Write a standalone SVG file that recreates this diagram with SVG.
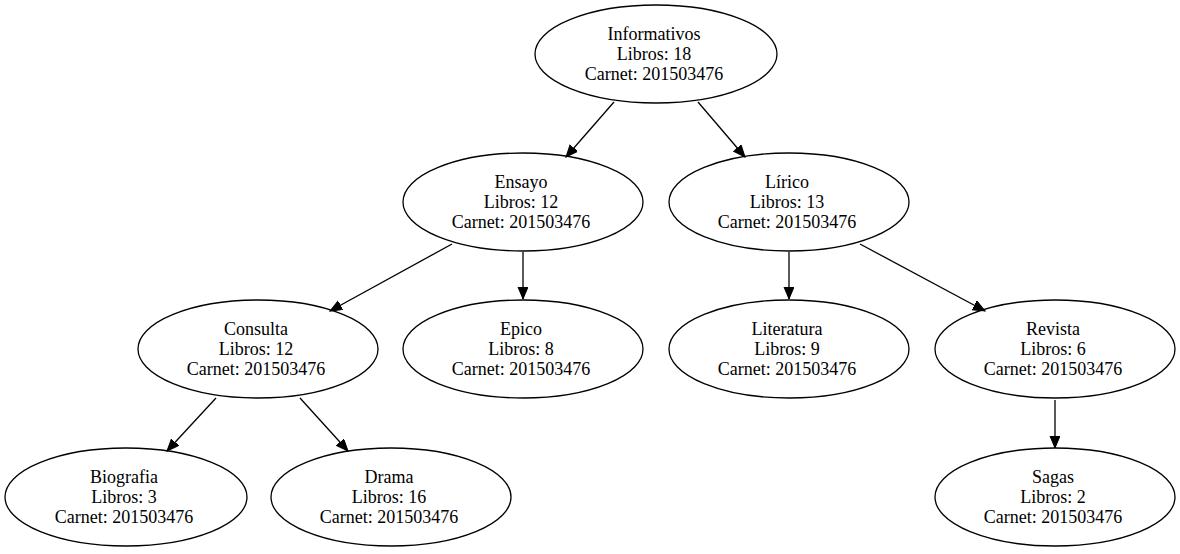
<svg xmlns="http://www.w3.org/2000/svg" width="1180" height="554" viewBox="0 0 1180 554">
<style>
.n ellipse{fill:none;stroke:#000;stroke-width:1.3}
.n text{font-family:"Liberation Serif","Times New Roman",serif;font-size:18px;text-anchor:middle;fill:#000}
.e line{stroke:#000;stroke-width:1.3;marker-end:url(#ah)}
</style>
<defs>
<marker id="ah" markerUnits="userSpaceOnUse" markerWidth="14" markerHeight="12" refX="12" refY="5" orient="auto">
<polygon points="0,0 12,5 0,10" fill="#000" stroke="#000" stroke-width="1"/>
</marker>
</defs>
<rect width="1180" height="554" fill="#fff"/>
<g id="edges" class="e">
<line x1="614" y1="102" x2="566" y2="157"/>
<line x1="698" y1="102" x2="745" y2="157"/>
<line x1="452" y1="244" x2="330" y2="311"/>
<line x1="523" y1="252" x2="523" y2="299"/>
<line x1="789" y1="252" x2="789" y2="299"/>
<line x1="860" y1="244" x2="985" y2="311"/>
<line x1="216" y1="398" x2="167" y2="451"/>
<line x1="300" y1="398" x2="348" y2="451"/>
<line x1="1055" y1="400" x2="1055" y2="448"/>
</g>
<g id="informativos" class="n"><ellipse cx="656" cy="54" rx="121" ry="49"/><text x="654" y="40">Informativos</text><text x="654" y="60">Libros: 18</text><text x="654" y="80">Carnet: 201503476</text></g>
<g id="ensayo" class="n"><ellipse cx="523" cy="202" rx="120" ry="49"/><text x="521" y="188">Ensayo</text><text x="521" y="208">Libros: 12</text><text x="521" y="228">Carnet: 201503476</text></g>
<g id="lirico" class="n"><ellipse cx="789" cy="202" rx="120" ry="49"/><text x="787" y="188">Lírico</text><text x="787" y="208">Libros: 13</text><text x="787" y="228">Carnet: 201503476</text></g>
<g id="consulta" class="n"><ellipse cx="258" cy="349" rx="120" ry="49"/><text x="256" y="335">Consulta</text><text x="256" y="355">Libros: 12</text><text x="256" y="375">Carnet: 201503476</text></g>
<g id="epico" class="n"><ellipse cx="523" cy="349" rx="120" ry="49"/><text x="521" y="335">Epico</text><text x="521" y="355">Libros: 8</text><text x="521" y="375">Carnet: 201503476</text></g>
<g id="literatura" class="n"><ellipse cx="789" cy="349" rx="120" ry="49"/><text x="787" y="335">Literatura</text><text x="787" y="355">Libros: 9</text><text x="787" y="375">Carnet: 201503476</text></g>
<g id="revista" class="n"><ellipse cx="1055" cy="349" rx="120" ry="49"/><text x="1053" y="335">Revista</text><text x="1053" y="355">Libros: 6</text><text x="1053" y="375">Carnet: 201503476</text></g>
<g id="biografia" class="n"><ellipse cx="126" cy="497" rx="121" ry="49"/><text x="124" y="483">Biografia</text><text x="124" y="503">Libros: 3</text><text x="124" y="523">Carnet: 201503476</text></g>
<g id="drama" class="n"><ellipse cx="391" cy="497" rx="120" ry="49"/><text x="389" y="483">Drama</text><text x="389" y="503">Libros: 16</text><text x="389" y="523">Carnet: 201503476</text></g>
<g id="sagas" class="n"><ellipse cx="1055" cy="497" rx="120" ry="49"/><text x="1053" y="483">Sagas</text><text x="1053" y="503">Libros: 2</text><text x="1053" y="523">Carnet: 201503476</text></g>
</svg>
